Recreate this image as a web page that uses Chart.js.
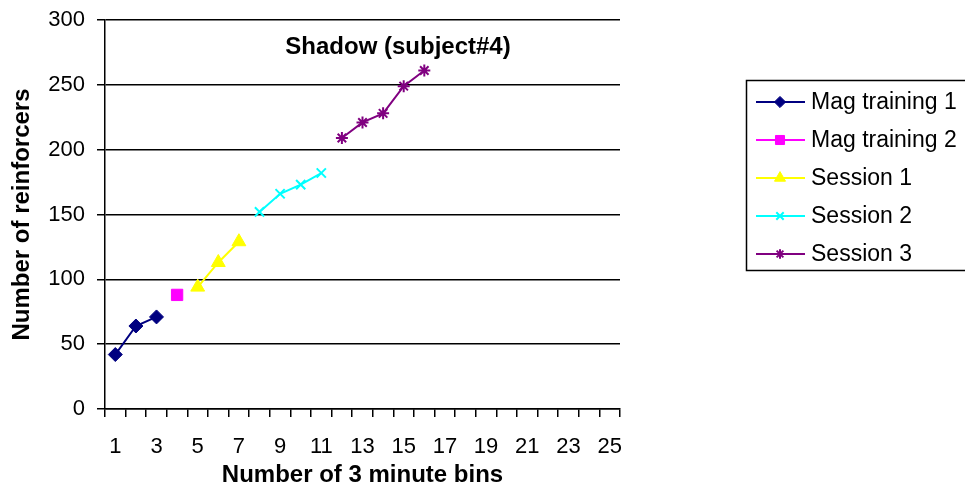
<!DOCTYPE html>
<html>
<head>
<meta charset="utf-8">
<script src="https://cdn.jsdelivr.net/npm/chart.js@4/dist/chart.umd.min.js"></script>
<style>
  html, body { margin: 0; padding: 0; background: #fff; }
  #wrap { position: relative; width: 965px; height: 486px; }
</style>
</head>
<body>
<div id="wrap"><canvas id="c" width="965" height="486"></canvas></div>
<script>
// ---- data ----
const categories = ['1','2','3','4','5','6','7','8','9','10','11','12','13','14','15','16','17','18','19','20','21','22','23','24','25'];
const yTicks = [0, 50, 100, 150, 200, 250, 300];
const chartTitle = 'Shadow (subject#4)';
const xTitle = 'Number of 3 minute bins';
const yTitle = 'Number of reinforcers';

const seriesNames = ['Mag training 1', 'Mag training 2', 'Session 1', 'Session 2', 'Session 3'];
const magTraining1Bins = ['1', '2', '3'];
const magTraining1Values = [42, 64, 71];
const magTraining2Bins = ['4'];
const magTraining2Values = [88];
const session1Bins = ['5', '6', '7'];
const session1Values = [94, 113, 129];
const session2Bins = ['8', '9', '10', '11'];
const session2Values = [152, 166, 173, 182];
const session3Bins = ['12', '13', '14', '15', '16'];
const session3Values = [209, 221, 228, 249, 261];

// ---- styles ----
const FONT = "'Liberation Sans', Arial, sans-serif";
const styles = [
  { color: '#000080', pointStyle: 'rectRot', radius: 7 },
  { color: '#FF00FF', pointStyle: 'rect', radius: 8 },
  { color: '#FFFF00', pointStyle: 'triangle', radius: 8 },
  { color: '#00FFFF', pointStyle: 'crossRot', radius: 6.5 },
  { color: '#800080', pointStyle: 'star', radius: 6 }
];
const binsList = [magTraining1Bins, magTraining2Bins, session1Bins, session2Bins, session3Bins];
const valuesList = [magTraining1Values, magTraining2Values, session1Values, session2Values, session3Values];

const datasets = seriesNames.map((name, i) => ({
  label: name,
  data: binsList[i].map((b, j) => ({ x: b, y: valuesList[i][j] })),
  borderColor: styles[i].color,
  backgroundColor: styles[i].color,
  pointBackgroundColor: styles[i].color,
  pointBorderColor: styles[i].color,
  pointStyle: styles[i].pointStyle,
  pointRadius: styles[i].radius,
  pointHoverRadius: styles[i].radius,
  pointBorderWidth: (styles[i].pointStyle === 'crossRot' || styles[i].pointStyle === 'star') ? 2 : 1,
  borderWidth: 2,
  tension: 0,
  fill: false
}));

// title drawn inside the plot area
const titlePlugin = {
  id: 'insideTitle',
  afterDraw(chart) {
    const { ctx, chartArea } = chart;
    ctx.save();
    ctx.font = 'bold 24px ' + FONT;
    ctx.fillStyle = '#000';
    ctx.textAlign = 'center';
    ctx.textBaseline = 'alphabetic';
    ctx.fillText(chartTitle, chartArea.left + 293, chartArea.top + 34);
    ctx.restore();
  }
};

// legend box with line + marker samples
const legendPlugin = {
  id: 'boxLegend',
  afterDraw(chart) {
    const { ctx } = chart;
    const bx = 746.5, by = 80.5, bw = 240, bh = 190;
    ctx.save();
    ctx.strokeStyle = '#000';
    ctx.lineWidth = 1.5;
    ctx.strokeRect(bx, by, bw, bh);
    ctx.font = '23px ' + FONT;
    ctx.textBaseline = 'middle';
    ctx.textAlign = 'left';
    chart.data.datasets.forEach((ds, i) => {
      const y = 102 + i * 38;
      ctx.strokeStyle = ds.borderColor;
      ctx.lineWidth = 2;
      ctx.beginPath();
      ctx.moveTo(756, y);
      ctx.lineTo(805, y);
      ctx.stroke();
      const opts = {
        pointStyle: ds.pointStyle,
        radius: ds.pointRadius * 0.8,
        rotation: 0,
        borderWidth: ds.pointBorderWidth
      };
      ctx.fillStyle = ds.pointBackgroundColor;
      ctx.strokeStyle = ds.pointBorderColor;
      ctx.lineWidth = ds.pointBorderWidth;
      Chart.helpers.drawPoint(ctx, opts, 780, y);
      ctx.fillStyle = '#000';
      ctx.fillText(ds.label, 811, y + 1);
    });
    ctx.restore();
  }
};

new Chart(document.getElementById('c'), {
  type: 'line',
  data: { labels: categories, datasets: datasets },
  options: {
    responsive: false,
    animation: false,
    devicePixelRatio: 1,
    layout: { padding: { left: 0, top: 20, right: 345, bottom: 0 } },
    plugins: {
      legend: { display: false },
      title: { display: false },
      tooltip: { enabled: false }
    },
    scales: {
      x: {
        type: 'category',
        offset: true,
        afterFit(s) { s.height = 77; s.paddingLeft = 0; s.paddingRight = 0; },
        grid: {
          offset: true,
          drawOnChartArea: false,
          drawTicks: true,
          tickLength: 8,
          color: '#000',
          lineWidth: 1.5
        },
        border: { display: true, color: '#000', width: 1.5 },
        ticks: {
          autoSkip: false,
          maxRotation: 0,
          minRotation: 0,
          padding: 17,
          color: '#000',
          font: { family: FONT, size: 22 },
          callback: function (val, index) {
            return index % 2 === 0 ? categories[index] : '';
          }
        },
        title: {
          display: true,
          text: xTitle,
          color: '#000',
          font: { family: FONT, size: 24, weight: 'bold', lineHeight: 0.9 },
          padding: { top: 0, bottom: 0 }
        }
      },
      y: {
        min: yTicks[0],
        max: yTicks[yTicks.length - 1],
        afterFit(s) { s.width = 105; s.paddingTop = 0; s.paddingBottom = 0; },
        afterBuildTicks(s) { s.ticks = yTicks.map(v => ({ value: v })); },
        grid: {
          drawOnChartArea: true,
          drawTicks: true,
          tickLength: 8,
          color: '#000',
          lineWidth: 1.5
        },
        border: { display: true, color: '#000', width: 1.5 },
        ticks: {
          padding: 12,
          color: '#000',
          font: { family: FONT, size: 22 }
        },
        title: {
          display: true,
          text: yTitle,
          color: '#000',
          font: { family: FONT, size: 24, weight: 'bold' },
          padding: { top: 8, bottom: 0 }
        }
      }
    }
  },
  plugins: [titlePlugin, legendPlugin]
});
</script>
</body>
</html>
